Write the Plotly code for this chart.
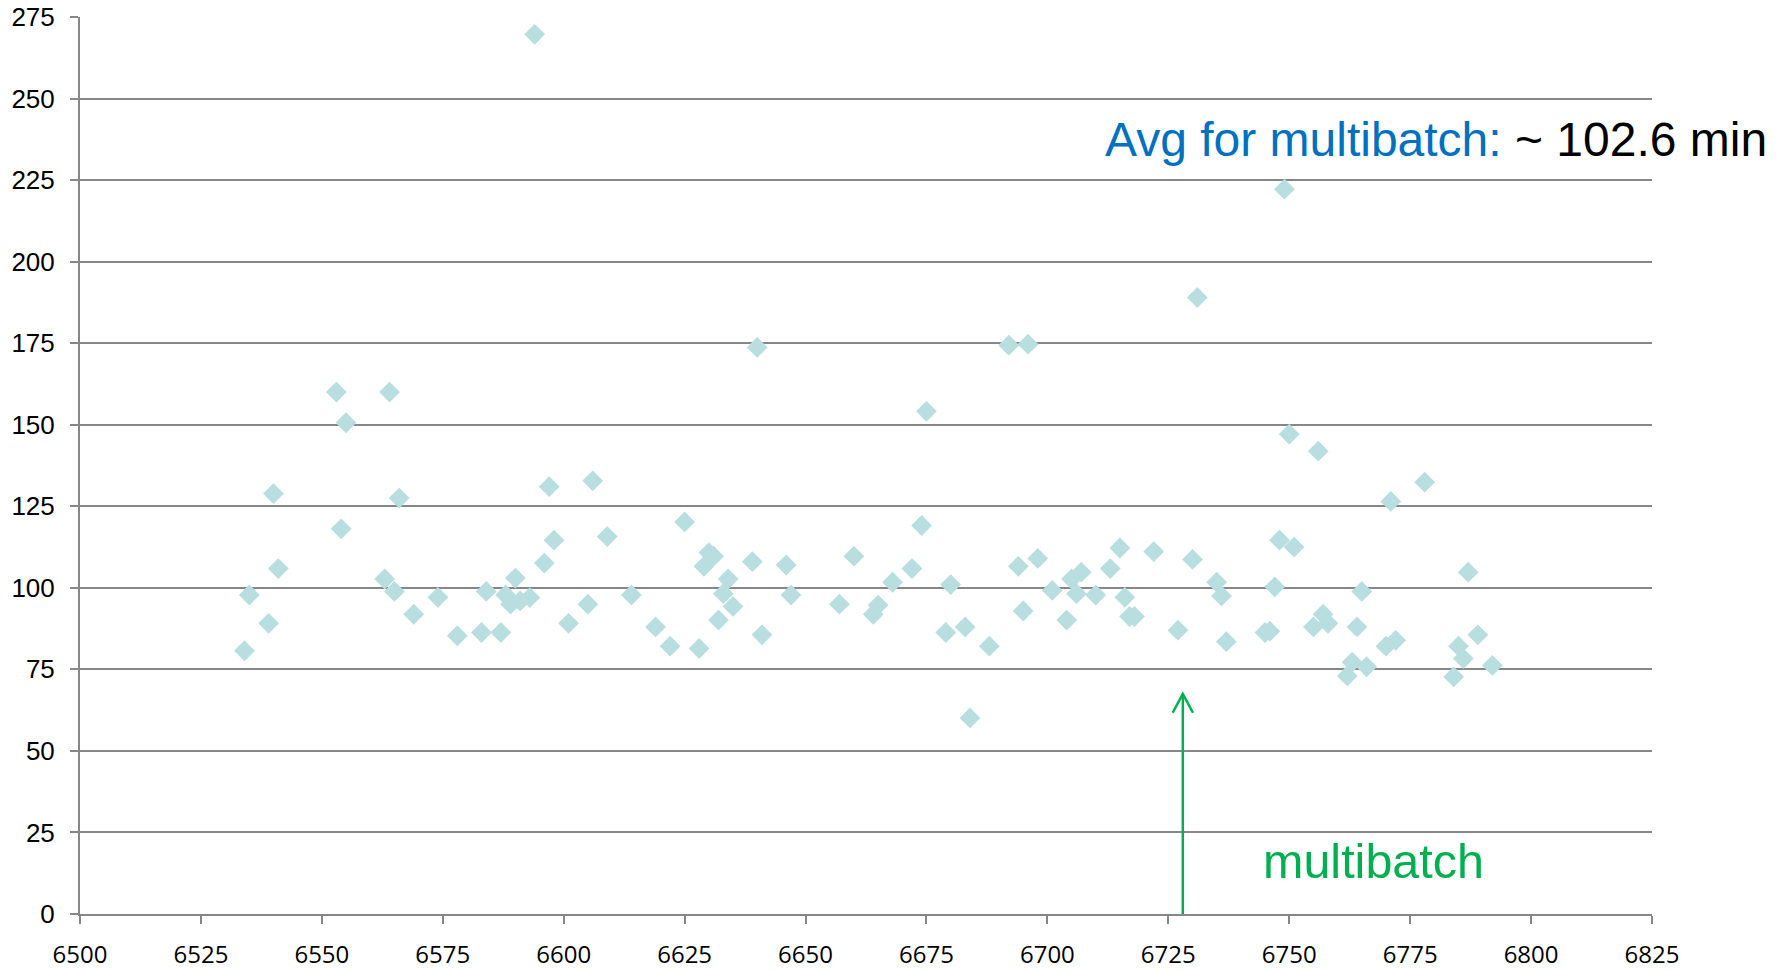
import plotly.graph_objects as go

# Batch number (x) and duration in minutes (y)
batch = [6534, 6535, 6539, 6540, 6541, 6553, 6554, 6555, 6563, 6564,
         6565, 6566, 6569, 6574, 6578, 6583, 6584, 6587, 6588, 6589,
         6590, 6591, 6593, 6594, 6596, 6597, 6598, 6601, 6605, 6606,
         6609, 6614, 6619, 6622, 6625, 6628, 6629, 6630, 6631, 6632,
         6633, 6634, 6635, 6639, 6640, 6641, 6646, 6647, 6657, 6660,
         6664, 6665, 6668, 6672, 6674, 6675, 6679, 6680, 6683, 6684,
         6688, 6692, 6694, 6695, 6696, 6698, 6701, 6704, 6705, 6706,
         6707, 6710, 6713, 6715, 6716, 6717, 6718, 6722, 6727, 6730,
         6731, 6735, 6736, 6737, 6745, 6746, 6747, 6748, 6749, 6750,
         6751, 6755, 6756, 6757, 6758, 6762, 6763, 6764, 6765, 6766,
         6770, 6771, 6772, 6778, 6784, 6785, 6786, 6787, 6789, 6792]
minutes = [80.7, 97.8, 89.1, 128.9, 105.9, 160.0, 118.1, 150.6, 102.7, 160.0,
           98.9, 127.5, 91.9, 97.1, 85.3, 86.3, 98.9, 86.3, 97.8, 95.0,
           103.0, 96.0, 97.0, 269.7, 107.6, 131.0, 114.6, 89.1, 95.0, 132.8,
           115.7, 97.8, 88.0, 82.1, 120.2, 81.4, 106.6, 110.8, 109.7, 90.1,
           98.2, 102.7, 94.3, 108.0, 173.7, 85.6, 107.0, 97.8, 95.0, 109.7,
           91.9, 94.7, 101.7, 105.9, 119.1, 154.1, 86.3, 101.0, 88.0, 60.1,
           82.1, 174.4, 106.6, 92.9, 174.7, 109.0, 99.2, 90.1, 102.7, 98.2,
           104.8, 97.8, 105.9, 112.2, 97.1, 91.2, 91.2, 111.1, 87.0, 108.7,
           189.0, 101.7, 97.5, 83.5, 86.3, 86.7, 100.3, 114.6, 222.2, 147.1,
           112.5, 88.0, 141.9, 91.9, 89.1, 73.0, 77.2, 88.0, 98.9, 75.8,
           82.1, 126.5, 83.9, 132.4, 72.7, 82.1, 78.3, 104.8, 85.6, 76.2]

x_ticks = [6500, 6525, 6550, 6575, 6600, 6625, 6650, 6675, 6700, 6725, 6750, 6775, 6800, 6825]
y_ticks = [0, 25, 50, 75, 100, 125, 150, 175, 200, 225, 250, 275]

multibatch_start = 6728
arrow_tip = 67.5

GRID = "#878787"
MARKER = "#B8DEE0"
BLUE = "#0070C0"
GREEN = "#00B050"

fig = go.Figure()
fig.add_trace(go.Scatter(
    x=batch, y=minutes, mode="markers",
    marker=dict(symbol="diamond", size=16, color=MARKER, line=dict(width=0)),
    showlegend=False, hoverinfo="x+y", cliponaxis=False,
))

# multibatch arrow
fig.add_shape(type="line", xref="x", yref="y",
              x0=multibatch_start, x1=multibatch_start, y0=-1, y1=arrow_tip,
              line=dict(color=GREEN, width=2.5))
fig.add_shape(type="path", xref="x", yref="y",
              path=f"M {multibatch_start-2.1},{arrow_tip-5.8} L {multibatch_start},{arrow_tip} L {multibatch_start+2.1},{arrow_tip-5.8}",
              line=dict(color=GREEN, width=2.5))

fig.add_annotation(
    xref="paper", yref="paper", x=0.6505, y=0.863, xanchor="left", yanchor="middle",
    text=f"<span style='color:{BLUE}'>Avg for multibatch:</span> ~ 102.6 min",
    showarrow=False, font=dict(family="Liberation Sans, Arial", size=48, color="black"),
)
fig.add_annotation(
    xref="paper", yref="paper", x=0.823, y=0.059, xanchor="center", yanchor="middle",
    text="multibatch", showarrow=False,
    font=dict(family="Liberation Sans, Arial", size=48.5, color=GREEN),
)

fig.update_xaxes(
    range=[6500, 6825], tickvals=x_ticks, ticktext=[str(v) for v in x_ticks],
    showgrid=False, zeroline=False, automargin=False,
    showline=True, linecolor=GRID, linewidth=2,
    ticks="outside", ticklen=8, tickwidth=2, tickcolor=GRID,
    tickfont=dict(family="Open Sans", size=24, color="black"),
    ticklabelstandoff=10,
)
fig.update_yaxes(
    range=[0, 275], tickvals=y_ticks, ticktext=[str(v) for v in y_ticks],
    showgrid=True, gridcolor=GRID, gridwidth=2, zeroline=False, automargin=False,
    showline=True, linecolor=GRID, linewidth=2,
    ticks="outside", ticklen=8, tickwidth=2, tickcolor=GRID,
    tickfont=dict(family="Liberation Sans, Arial", size=26, color="black"),
    ticklabelstandoff=10,
)
fig.update_layout(
    width=1786, height=971,
    margin=dict(l=80, r=134, t=17, b=57),
    plot_bgcolor="white", paper_bgcolor="white",
)
fig.write_html("out.html")
